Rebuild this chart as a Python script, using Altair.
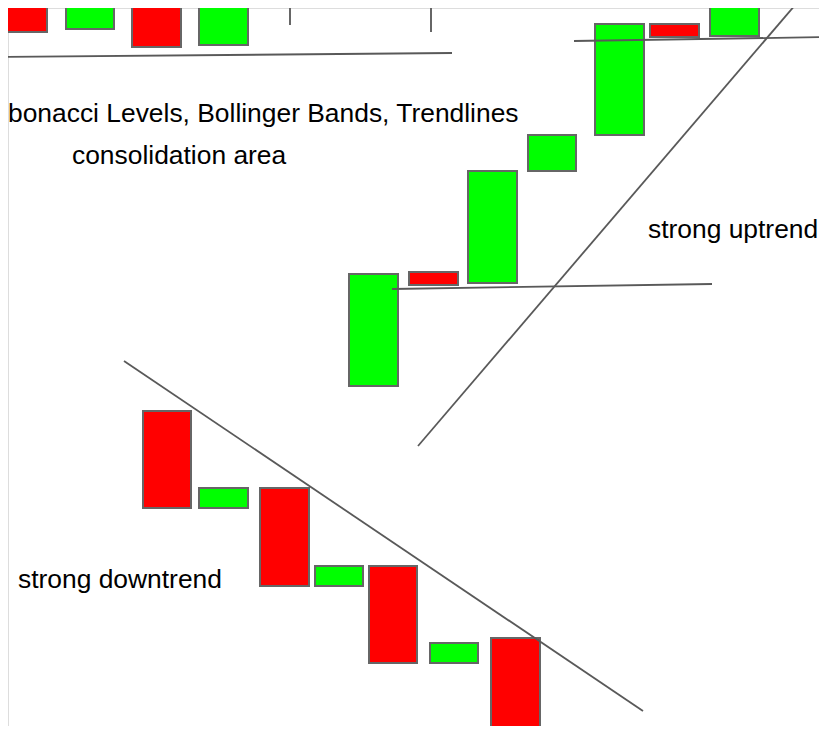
import altair as alt
import pandas as pd

# ---- candles (time = horizontal position, price = vertical level) ----
candle_t0 = [0, 66, 132, 199, 349, 409, 468, 528, 595, 650, 710, 143, 199, 260, 315, 369, 430, 491]
candle_t1 = [47, 114, 181, 248, 398, 458, 517, 576, 644, 699, 759, 191, 248, 309, 363, 417, 478, 540]
candle_open = [760, 705, 760, 689, 348, 462, 451, 563, 599, 710, 698, 323, 226, 246, 148, 168, 71, 96]
candle_close = [702, 760, 687, 760, 460, 449, 563, 599, 710, 697, 760, 226, 246, 148, 168, 71, 91, -20]

# ---- thin vertical wicks at the top ----
wick_t = [290, 351, 431]
wick_low = [709, 729, 702]
wick_high = [760, 760, 760]

# ---- trendlines / levels ----
line_t0 = [0, 574, 392, 418, 124]
line_p0 = [677, 693, 445, 288, 373]
line_t1 = [452, 827, 712, 796, 643]
line_p1 = [681, 697, 450, 730, 23]

# ---- annotations ----
label_text = ["bonacci Levels, Bollinger Bands, Trendlines", "consolidation area",
              "strong uptrend", "strong downtrend"]
label_t = [8, 72, 648, 18]
label_p = [612, 570, 496, 146]

candles = pd.DataFrame({
    "t0": candle_t0, "t1": candle_t1, "open": candle_open, "close": candle_close,
})
candles["dir"] = ["up" if c > o else "down" for o, c in zip(candle_open, candle_close)]
wicks = pd.DataFrame({"t": wick_t, "low": wick_low, "high": wick_high})
lines = pd.DataFrame({"t0": line_t0, "p0": line_p0, "t1": line_t1, "p1": line_p1})
labels = pd.DataFrame({"text": label_text, "t": label_t, "p": label_p})

xs = alt.Scale(domain=[8, 819], nice=False, zero=False)
ys = alt.Scale(domain=[8, 726], nice=False, zero=False)
noax = None

rects = alt.Chart(candles).mark_rect(clip=True, stroke="#666666", strokeWidth=2).encode(
    x=alt.X("t0:Q", scale=xs, axis=noax),
    x2="t1:Q",
    y=alt.Y("open:Q", scale=ys, axis=noax),
    y2="close:Q",
    fill=alt.Fill("dir:N", scale=alt.Scale(domain=["up", "down"], range=["#00ff00", "#ff0000"]), legend=None),
)

wick_rules = alt.Chart(wicks).mark_rule(clip=True, color="#666666", strokeWidth=2).encode(
    x=alt.X("t:Q", scale=xs, axis=noax),
    y=alt.Y("low:Q", scale=ys, axis=noax),
    y2="high:Q",
)

trend = alt.Chart(lines).mark_rule(clip=True, color="#595959", strokeWidth=1.8).encode(
    x=alt.X("t0:Q", scale=xs, axis=noax),
    x2="t1:Q",
    y=alt.Y("p0:Q", scale=ys, axis=noax),
    y2="p1:Q",
)

texts = alt.Chart(labels).mark_text(
    clip=True, align="left", baseline="alphabetic", font="Liberation Sans",
    fontSize=26.4, color="#000000",
).encode(
    x=alt.X("t:Q", scale=xs, axis=noax),
    y=alt.Y("p:Q", scale=ys, axis=noax),
    text="text:N",
)

chart = alt.layer(rects, wick_rules, trend, texts).properties(
    width=811, height=718,
    autosize=alt.AutoSizeParams(type="none"),
    padding=0,
).configure_view(stroke=None).configure(background="white")

chart.save("out.html", embed_options={"renderer": "svg", "actions": False})
